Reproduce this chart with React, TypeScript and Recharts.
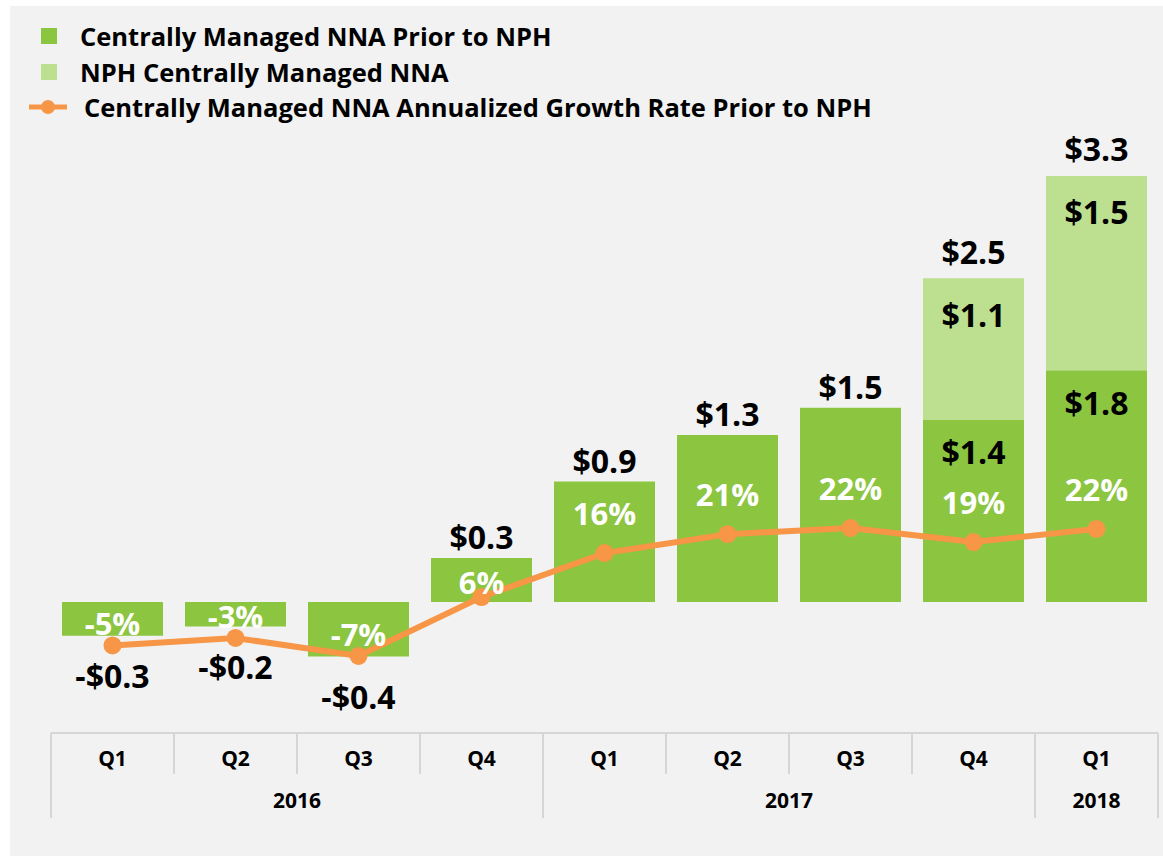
import React from 'react';
import { ComposedChart, Bar, Line, XAxis, YAxis, LabelList } from 'recharts';

// ---------- data ----------
const periods = ['2016 Q1', '2016 Q2', '2016 Q3', '2016 Q4', '2017 Q1', '2017 Q2', '2017 Q3', '2017 Q4', '2018 Q1'];
const quarterLabels = ['Q1', 'Q2', 'Q3', 'Q4', 'Q1', 'Q2', 'Q3', 'Q4', 'Q1'];
const yearLabels = ['2016', '2016', '2016', '2016', '2017', '2017', '2017', '2017', '2018'];
const priorToNph = [-0.26, -0.19, -0.42, 0.34, 0.93, 1.29, 1.5, 1.41, 1.79];
const nphManaged: (number | null)[] = [null, null, null, null, null, null, null, 1.09, 1.5];
const growthRate = [-4.6, -2.9, -7.0, 6.4, 16.4, 20.7, 22.1, 18.9, 21.9];

const seriesNames = [
  'Centrally Managed NNA Prior to NPH',
  'NPH Centrally Managed NNA',
  'Centrally Managed NNA Annualized Growth Rate Prior to NPH',
];

const data = periods.map((p, i) => ({
  period: p,
  prior: priorToNph[i],
  nph: nphManaged[i],
  growth: growthRate[i],
}));

// ---------- style ----------
const W = 1163;
const H = 856;
const M = { top: 150, right: 5, bottom: 0, left: 51 };
const AXIS_H = 123;
const BAND = (W - M.left - M.right) / periods.length;
const DARK = '#8cc540';
const LIGHT = '#bddf90';
const ORANGE = '#f79646';
const GRID = '#d6d6d6';
const FONT = "'Open Sans', 'Noto Sans', sans-serif";

const money = (v: number) => (v < 0 ? `-$${Math.abs(v).toFixed(1)}` : `$${v.toFixed(1)}`);
const bandIndex = (cx: number) => Math.max(0, Math.min(periods.length - 1, Math.floor((cx - M.left) / BAND)));

const QuarterTick = (props: any) => {
  const { x, y } = props;
  const i = bandIndex(x);
  const left = x - BAND / 2;
  const yearStart = i === 0 || yearLabels[i] !== yearLabels[i - 1];
  const isLast = i === periods.length - 1;
  let groupSize = 0;
  if (yearStart) {
    let j = i;
    while (j < yearLabels.length && yearLabels[j] === yearLabels[i]) j++;
    groupSize = j - i;
  }
  return (
    <g>
      <line x1={left} x2={left} y1={y} y2={y + (yearStart ? 85 : 41)} stroke={GRID} strokeWidth={2} />
      {isLast && (
        <line x1={left + BAND} x2={left + BAND} y1={y} y2={y + 85} stroke={GRID} strokeWidth={2} />
      )}
      <text x={x} y={y + 25} textAnchor="middle" dominantBaseline="central" fontFamily={FONT} fontWeight={700} fontSize={21} fill="#000">
        {quarterLabels[i]}
      </text>
      {yearStart && (
        <text x={left + (groupSize * BAND) / 2} y={y + 67} textAnchor="middle" dominantBaseline="central" fontFamily={FONT} fontWeight={700} fontSize={21} fill="#000">
          {yearLabels[i]}
        </text>
      )}
    </g>
  );
};

const labelStyle = { fontFamily: FONT, fontWeight: 700, fontSize: 32 } as const;
const pctStyle = { fontFamily: FONT, fontWeight: 700, fontSize: 31 } as const;

const DarkLabel = (props: any) => {
  const { x, y, width, height, value } = props;
  if (value == null) return null;
  const cx = x + width / 2;
  const i = bandIndex(cx);
  const top = Math.min(y, y + height);
  const bottom = Math.max(y, y + height);
  let ty: number;
  if (nphManaged[i] != null) ty = top + 32;
  else if (value >= 0) ty = top - 21;
  else ty = bottom + 40;
  return (
    <text x={cx} y={ty} textAnchor="middle" dominantBaseline="central" {...labelStyle} fill="#000">
      {money(value)}
    </text>
  );
};

const LightLabel = (props: any) => {
  const { x, y, width, height, value } = props;
  if (value == null) return null;
  const cx = x + width / 2;
  const i = bandIndex(cx);
  const top = Math.min(y, y + height);
  const total = priorToNph[i] + (nphManaged[i] as number);
  return (
    <g>
      <text x={cx} y={top + 36} textAnchor="middle" dominantBaseline="central" {...labelStyle} fill="#000">
        {money(value)}
      </text>
      <text x={cx} y={top - 27} textAnchor="middle" dominantBaseline="central" {...labelStyle} fill="#000">
        {money(total)}
      </text>
    </g>
  );
};

const GrowthLabel = (props: any) => {
  const { x, y, value } = props;
  if (value == null) return null;
  const off = value >= 10 ? 40 : value > 0 ? 15 : 22;
  return (
    <text x={x} y={y - off} textAnchor="middle" dominantBaseline="central" {...pctStyle} fill="#fff">
      {`${Math.round(value)}%`}
    </text>
  );
};

const LegendBlock = () => {
  const row = (top: number, icon: React.ReactNode, textLeft: number, text: string) => (
    <div style={{ position: 'absolute', left: 0, top: top - 18, height: 36, width: 1000 }}>
      {icon}
      <div
        style={{
          position: 'absolute',
          left: textLeft,
          top: 0,
          height: 36,
          lineHeight: '36px',
          fontFamily: FONT,
          fontWeight: 700,
          fontSize: 25.5,
          color: '#000',
          whiteSpace: 'nowrap',
        }}
      >
        {text}
      </div>
    </div>
  );
  const square = (color: string) => (
    <div style={{ position: 'absolute', left: 41, top: 10, width: 16, height: 16, background: color }} />
  );
  const lineIcon = (
    <svg style={{ position: 'absolute', left: 26, top: 0 }} width={44} height={36}>
      <line x1={3} x2={41} y1={18} y2={18} stroke={ORANGE} strokeWidth={5} />
      <circle cx={22} cy={18} r={7} fill={ORANGE} />
    </svg>
  );
  return (
    <div style={{ position: 'absolute', left: 0, top: 0 }}>
      {row(36, square(DARK), 80, seriesNames[0])}
      {row(72, square(LIGHT), 80, seriesNames[1])}
      {row(107, lineIcon, 84, seriesNames[2])}
    </div>
  );
};

export default function App() {
  return (
    <div style={{ position: 'absolute', left: 0, top: 0, width: W, height: H, background: '#fff', overflow: 'hidden' }}>
      <div style={{ position: 'absolute', left: 10, top: 6, width: W - 10, height: H - 6, background: '#f2f2f2' }} />
      <div style={{ position: 'absolute', left: 0, top: 0 }}>
        <ComposedChart width={W} height={H} data={data} margin={M} stackOffset="sign">
          <XAxis
            dataKey="period"
            interval={0}
            tickLine={false}
            tickSize={0}
            tickMargin={0}
            height={AXIS_H}
            axisLine={{ stroke: GRID, strokeWidth: 2 }}
            tick={<QuarterTick />}
          />
          <YAxis yAxisId="left" hide domain={[-1.0116, 3.49]} />
          <YAxis yAxisId="right" orientation="right" hide domain={[-24.52, 108.07]} />
          <Bar yAxisId="left" dataKey="prior" stackId="a" fill={DARK} barSize={101} isAnimationActive={false}>
            <LabelList dataKey="prior" content={<DarkLabel />} />
          </Bar>
          <Bar yAxisId="left" dataKey="nph" stackId="a" fill={LIGHT} barSize={101} isAnimationActive={false}>
            <LabelList dataKey="nph" content={<LightLabel />} />
          </Bar>
          <Line
            yAxisId="right"
            dataKey="growth"
            stroke={ORANGE}
            strokeWidth={6}
            dot={{ r: 9, fill: ORANGE, stroke: 'none' }}
            activeDot={false}
            isAnimationActive={false}
          >
            <LabelList dataKey="growth" content={<GrowthLabel />} />
          </Line>
        </ComposedChart>
      </div>
      <LegendBlock />
    </div>
  );
}
